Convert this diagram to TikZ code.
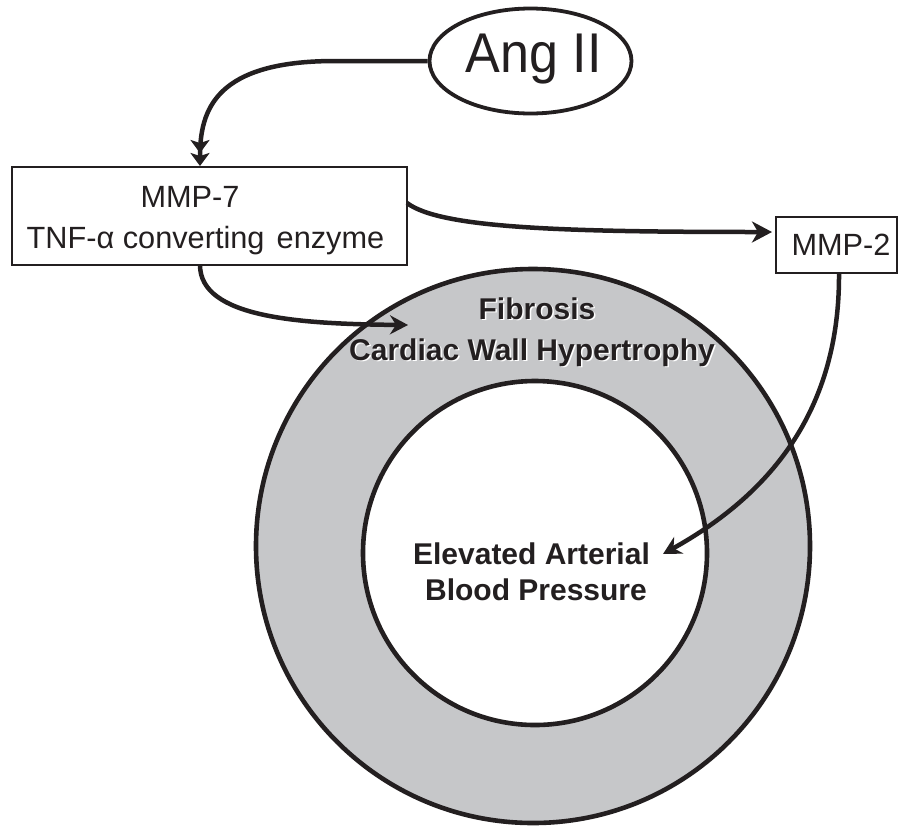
\documentclass[tikz,border=0pt]{standalone}
\usepackage{fontspec}
\setmainfont{Liberation Sans}
\usepackage{graphicx}
\usetikzlibrary{shapes.geometric, arrows.meta}
\definecolor{ringgray}{RGB}{198,199,201}
\definecolor{ink}{RGB}{35,31,32}
\tikzset{
  conn/.style={line width=4.5pt, draw=ink},
  boxnode/.style={draw=ink, line width=1.5pt, inner sep=0pt, fill=white},
  plaintxt/.style={anchor=base, inner sep=0pt, text=ink, font=\fontsize{30.7}{36}\selectfont},
  boldtxt/.style={anchor=base, inner sep=0pt, text=ink, font=\fontsize{30}{36}\selectfont\bfseries},
  shadowtxt/.style={boldtxt, text=white, xshift=1.5pt, yshift=-1.5pt},
  ringline/.style={draw=ink, line width=4.6pt},
  bigtip/.style={-{Stealth[length=20pt,width=21pt,inset=6pt]}},
  midtip/.style={-{Stealth[length=18pt,width=19pt,inset=6pt]}},
  dbltip/.style={-{Stealth[length=13pt,width=19pt,inset=3pt]Stealth[length=13pt,width=19pt,inset=3pt]}}
}
\newcommand{\ShTxt}[3]{%
  \node[shadowtxt] at (#2) {#3};
  \node[boldtxt] (#1) at (#2) {#3};}
\begin{document}
\begin{tikzpicture}[x=1pt,y=-1pt]
\useasboundingbox (0,0) rectangle (900,831);
\fill[white] (0,0) rectangle (900,831);

% ring
\draw[ringline, fill=ringgray] (533,546) circle[radius=277pt];
\draw[ringline, fill=white] (535,553) circle[radius=172pt];

% nodes
\node[ellipse, draw=ink, line width=3.8pt, minimum width=202pt, minimum height=105pt, inner sep=0pt, fill=white] (ang) at (530.5,61) {};
\node[anchor=base, inner sep=0pt, text=ink] (angt) at (533.5,72.7) {\fontsize{56}{60}\selectfont\scalebox{0.93}[1]{Ang II}};

\node[boxnode, minimum width=395pt, minimum height=98pt] (m7) at (209.5,216) {};
\node[plaintxt] (m7a) at (190,207) {MMP-7};
\node[plaintxt] (m7b) at (205.5,248) {TNF-α converting\hspace{0.12em} enzyme};

\node[boxnode, minimum width=121pt, minimum height=56pt] (m2) at (836.5,245) {};
\node[plaintxt] (m2t) at (841,255) {MMP-2};

% connector end points
\coordinate (m7in) at (200,166);
\coordinate (m7out) at (407,203);
\coordinate (m7bot) at (200,265);
\coordinate (m2in) at (772,232);
\coordinate (m2bot) at (839,273);
\coordinate (fibtip) at (408,325);
\coordinate (eabtip) at (663,554);

% connectors
\draw[conn, dbltip]
  (ang.west) -- (335,61) .. controls (215,61) and (200,110) .. (m7in);
\draw[conn, bigtip]
  (m7out) .. controls (440,228) and (560,232) .. (m2in);
\draw[conn, midtip]
  (m7bot) .. controls (200,318) and (300,324) .. (fibtip);
\draw[conn, midtip]
  (m2bot) .. controls (840,420) and (760,500) .. (eabtip);

% ring texts
\ShTxt{fib}{537,319}{Fibrosis}
\ShTxt{cwh}{532,360}{Cardiac Wall Hypertrophy}
\ShTxt{eab}{531.5,564}{Elevated Arterial}
\ShTxt{bp}{536,600}{Blood Pressure}
\end{tikzpicture}
\end{document}
